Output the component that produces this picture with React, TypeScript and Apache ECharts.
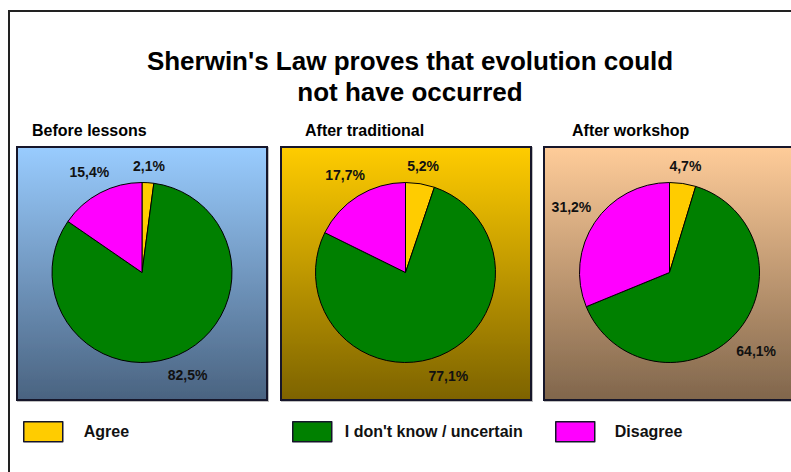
import React, { useEffect, useRef } from "react";
import * as echarts from "echarts";

const titleLines = ["Sherwin's Law proves that evolution could", "not have occurred"];
const categories = ["Agree", "I don't know / uncertain", "Disagree"];
const categoryColors = ["#FFCC00", "#008000", "#FF00FF"];
const panelNames = ["Before lessons", "After traditional", "After workshop"];
const beforeLessons = [2.1, 82.5, 15.4];
const afterTraditional = [5.2, 77.1, 17.7];
const afterWorkshop = [4.7, 64.1, 31.2];
const panelValues = [beforeLessons, afterTraditional, afterWorkshop];

// layout (not data)
const FONT = "'Liberation Sans', Arial, Helvetica, sans-serif";
const panelBoxes = [
  { x: 17, y: 147, w: 250, h: 253, top: "#99CCFF", bottom: "#4A6380" },
  { x: 281, y: 147, w: 250, h: 253, top: "#FFCC00", bottom: "#7D6300" },
  { x: 544, y: 147, w: 252, h: 253, top: "#FFCC99", bottom: "#80664C" },
];
const panelTitlePos = [
  [32, 130],
  [305, 130],
  [572, 130],
];
const pieCenters = [
  [142, 272.5],
  [405.5, 272.5],
  [669.5, 272.5],
];
const R = 90;
const legendLeft = [23, 292, 555];
const legendTextGap = [16, 8, 15];

export default function App() {
  const ref = useRef<HTMLDivElement>(null);
  useEffect(() => {
    document.body.style.margin = "0";
    const chart = echarts.init(ref.current!, null, { renderer: "svg" });
    const graphics: any[] = [];
    graphics.push({
      type: "rect",
      z: -10,
      shape: { x: 9, y: 11, width: 800, height: 480 },
      style: { fill: "#fff", stroke: "#222", lineWidth: 2 },
    });
    panelBoxes.forEach((b) => {
      graphics.push({
        type: "rect",
        z: -5,
        shape: { x: b.x, y: b.y, width: b.w, height: b.h },
        style: {
          fill: {
            type: "linear",
            x: 0,
            y: 0,
            x2: 0,
            y2: 1,
            colorStops: [
              { offset: 0, color: b.top },
              { offset: 1, color: b.bottom },
            ],
          },
          stroke: "#15152a",
          lineWidth: 2,
          shadowColor: "rgba(0,0,0,0.25)",
          shadowOffsetX: 1,
          shadowOffsetY: 1,
          shadowBlur: 1,
        },
      });
    });
    titleLines.forEach((t, i) => {
      graphics.push({
        type: "text",
        x: 410,
        y: 61 + i * 31,
        style: {
          text: t,
          font: `bold 26px ${FONT}`,
          fill: "#000",
          textAlign: "center",
          textVerticalAlign: "middle",
        },
      });
    });
    panelNames.forEach((t, i) => {
      graphics.push({
        type: "text",
        x: panelTitlePos[i][0],
        y: panelTitlePos[i][1],
        style: {
          text: t,
          font: `bold 16px ${FONT}`,
          fill: "#000",
          textAlign: "left",
          textVerticalAlign: "middle",
        },
      });
    });

    const series = panelValues.map((vals, si) => ({
      type: "pie",
      name: panelNames[si],
      left: 0,
      top: 0,
      width: 2000,
      height: 2000,
      center: pieCenters[si],
      radius: R,
      startAngle: 90,
      clockwise: true,
      z: 3,
      emphasis: { disabled: true },
      itemStyle: { borderColor: "#000", borderWidth: 1 },
      label: {
        show: true,
        position: "outside",
        bleedMargin: -500,
        formatter: (p: any) => `${Number(p.value).toFixed(1).replace(".", ",")}%`,
        fontFamily: FONT,
        fontWeight: "bold",
        fontSize: 14,
        color: "#111",
      },
      labelLine: { show: false },
      labelLayout: (params: any) => {
        const idx = params.dataIndex;
        const total = vals.reduce((a, b) => a + b, 0);
        let cum = 0;
        for (let k = 0; k < idx; k++) cum += vals[k];
        const mid = ((cum + vals[idx] / 2) / total) * Math.PI * 2;
        const s = Math.sin(mid);
        const c = Math.cos(mid);
        const hw = 20;
        const hh = 8;
        const d = R + 7 + Math.abs(s) * hw + Math.abs(c) * hh;
        return {
          x: pieCenters[si][0] + s * d,
          y: pieCenters[si][1] - c * d,
          align: "center",
          verticalAlign: "middle",
        };
      },
      data: categories.map((name, i) => ({
        name,
        value: vals[i],
        itemStyle: { color: categoryColors[i] },
      })),
    }));

    const legends = categories.map((name, i) => ({
      data: [name],
      left: legendLeft[i],
      top: 421,
      padding: 0,
      itemWidth: 39,
      itemHeight: 20,
      icon: "rect",
      selectedMode: false,
      itemStyle: { borderColor: "#15152a", borderWidth: 1.5 },
      textStyle: {
        fontFamily: FONT,
        fontWeight: "bold",
        fontSize: 16,
        color: "#111",
        padding: [0, 0, 0, legendTextGap[i]],
      },
    }));

    chart.setOption({
      animation: false,
      backgroundColor: "#fff",
      graphic: graphics,
      legend: legends,
      series,
    });
    return () => chart.dispose();
  }, []);
  return <div ref={ref} style={{ width: 791, height: 472 }} />;
}
